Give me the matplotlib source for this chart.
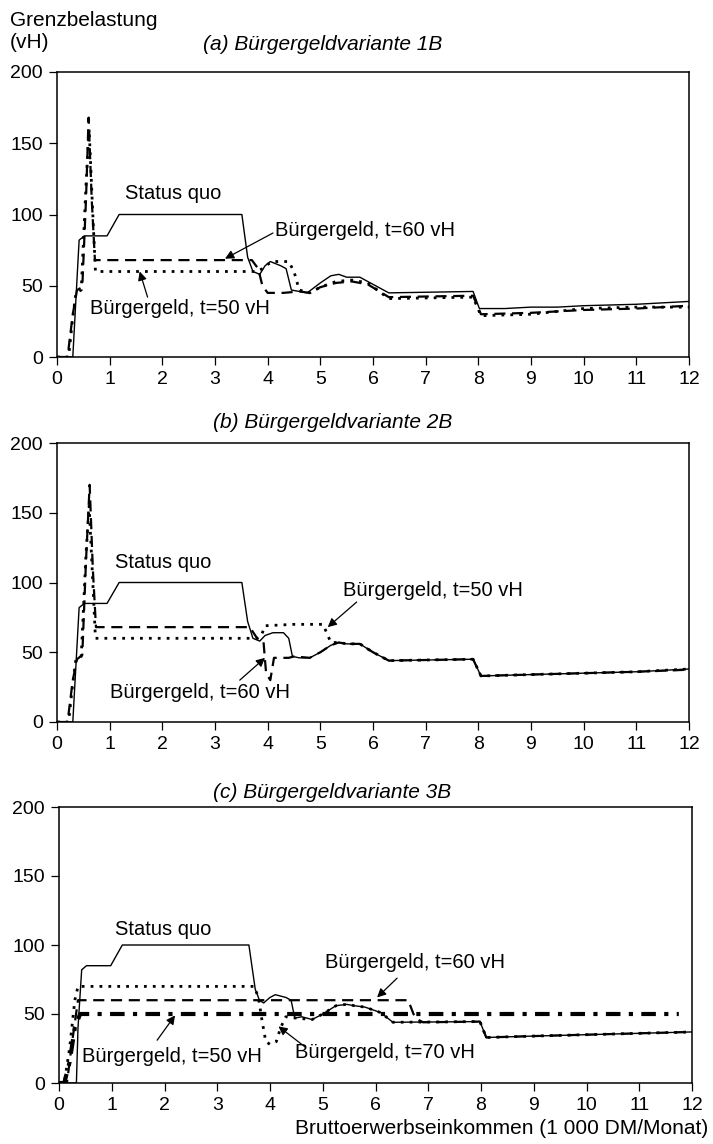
import numpy as np
import matplotlib
matplotlib.use("Agg")
import matplotlib.pyplot as plt

plt.rcParams['font.family'] = ['Liberation Sans', 'DejaVu Sans']
plt.rcParams['font.size'] = 14

# Panel (a) Bürgergeldvariante 1B
a_sq_x = [0, 0.30, 0.42, 0.52, 0.95, 1.18, 3.51, 3.62, 3.72, 3.85, 3.95, 4.05, 4.25, 4.35, 4.45,
          4.6, 4.75, 5.0, 5.2, 5.35, 5.5, 5.75, 6.0, 6.3, 7.9, 8.02, 8.5, 9.0, 9.5, 10.0, 10.5, 11.0, 12.0]
a_sq_y = [0, 0, 82, 85, 85, 100, 100, 70, 60, 58, 64, 67, 64, 62, 47,
          46, 45, 52, 57, 58, 56, 56, 51, 45, 46, 34, 34, 35, 35, 36, 36.5, 37, 39]
a_t60_x = [0, 0.2, 0.3, 0.38, 0.48, 0.55, 0.6, 0.66, 0.72, 3.7, 3.82, 3.9, 4.0, 4.3, 4.6, 4.8,
           5.0, 5.3, 5.6, 5.9, 6.3, 7.9, 8.05, 9.0, 10.0, 11.0, 12.0]
a_t60_y = [0, 0, 30, 47, 49, 110, 168, 110, 68, 68, 62, 50, 45, 45, 46, 45,
           49, 52, 53, 51, 42, 43, 30, 31, 33, 34, 36]
a_t50_x = [0, 0.22, 0.3, 0.36, 0.46, 0.55, 0.61, 0.68, 0.73, 3.8, 3.9, 4.0, 4.1, 4.4, 4.5, 4.6,
           4.8, 5.0, 5.3, 5.6, 5.9, 6.3, 7.9, 8.05, 9.0, 9.5, 10.0, 11.0, 12.0]
a_t50_y = [0, 0, 28, 45, 47, 120, 160, 100, 60, 60, 62, 65, 67, 67, 60, 47,
           45, 49, 53, 54, 52, 41, 42, 29, 30, 32, 34, 35, 35]

# Panel (b) Bürgergeldvariante 2B
b_sq_x = [0, 0.30, 0.42, 0.52, 0.95, 1.18, 3.51, 3.62, 3.72, 3.85, 3.95, 4.1, 4.3, 4.4, 4.47,
          4.6, 4.8, 5.0, 5.2, 5.35, 5.5, 5.75, 6.0, 6.3, 7.9, 8.05, 9.0, 10.0, 11.0, 12.0]
b_sq_y = [0, 0, 82, 85, 85, 100, 100, 72, 60, 58, 62, 64, 64, 60, 47,
          46, 46, 50, 55, 57, 56, 56, 50, 44, 45, 33, 34, 35, 36, 38]
b_t60_x = [0, 0.2, 0.3, 0.38, 0.48, 0.55, 0.62, 0.68, 0.74, 3.66, 3.8, 3.92, 3.97, 4.05, 4.12,
           4.4, 4.5, 4.8, 5.0, 5.2, 5.35, 5.5, 5.75, 6.0, 6.3, 7.9, 8.05, 9.0, 10.0, 11.0, 12.0]
b_t60_y = [0, 0, 30, 45, 48, 115, 170, 110, 68, 68, 60, 58, 35, 30, 46,
           46, 47, 46, 50, 55, 57, 56, 56, 50, 44, 45, 33, 34, 35, 36, 37.5]
b_t50_x = [0, 0.22, 0.3, 0.36, 0.46, 0.55, 0.61, 0.68, 0.73, 3.8, 3.88, 3.95, 4.5, 5.05, 5.12,
           5.2, 5.35, 5.5, 5.75, 6.0, 6.3, 7.9, 8.05, 9.0, 10.0, 11.0, 12.0]
b_t50_y = [0, 0, 28, 45, 47, 120, 155, 100, 60, 60, 62, 69, 70, 70, 64,
           57, 57, 56, 56, 50, 44, 45, 33, 34, 35, 36, 38]

# Panel (c) Bürgergeldvariante 3B
c_sq_x = [0, 0.33, 0.36, 0.43, 0.52, 0.98, 1.2, 3.6, 3.72, 3.8, 3.88, 4.0, 4.1, 4.3, 4.4, 4.47,
          4.6, 4.8, 5.0, 5.25, 5.45, 5.6, 5.8, 6.1, 6.33, 7.98, 8.1, 9.0, 10.0, 11.0, 12.0]
c_sq_y = [0, 0, 40, 82, 85, 85, 100, 100, 68, 60, 58, 62, 64, 62, 60, 47,
          48, 46, 50, 56, 57, 56, 55, 51, 44, 44.5, 33, 34, 35, 36, 37]
c_t70_x = [0, 0.1, 0.2, 0.3, 0.36, 3.7, 3.78, 3.85, 3.92, 4.0, 4.12, 4.2, 4.3, 4.5, 4.8,
           5.0, 5.25, 5.45, 5.6, 5.8, 6.1, 6.33, 7.98, 8.1, 9.0, 10.0, 11.0, 12.0]
c_t70_y = [0, 0, 25, 60, 70, 70, 62, 45, 30, 28, 30, 40, 48, 47, 46,
           50, 56, 57, 56, 55, 51, 44, 44.5, 33, 34, 35, 36, 37]
c_t60_x = [0, 0.15, 0.25, 0.36, 6.62, 6.72, 6.8, 6.9, 7.98, 8.1, 9.0, 10.0, 11.0, 12.0]
c_t60_y = [0, 0, 30, 60, 60, 50, 46, 44, 44.5, 33, 34, 35, 36, 37]
c_t50_x = [0, 0.1, 0.2, 0.3, 0.4, 11.75]
c_t50_y = [0, 0, 15, 40, 50, 50]

xticks = list(range(0, 13))
yticks = [0, 50, 100, 150, 200]

W, H = 713, 1144
fig = plt.figure(figsize=(W / 100, H / 100), dpi=100)


def px(x0, y0, x1, y1):
    return [x0 / W, 1 - y1 / H, (x1 - x0) / W, (y1 - y0) / H]


def setup(ax):
    ax.set_xlim(0, 12)
    ax.set_ylim(0, 200)
    ax.set_xticks(xticks)
    ax.set_yticks(yticks)
    ax.tick_params(direction='out', length=6, width=0.9, labelsize=14, pad=4)
    for s in ax.spines.values():
        s.set_linewidth(1.1)


def arr(ax, tip, tail):
    ax.annotate('', xy=tip, xytext=tail,
                arrowprops=dict(arrowstyle='-|>', color='black', lw=0.9,
                                mutation_scale=13, shrinkA=0, shrinkB=0))


DASH = (0, (5, 3))
DOT = (0, (1, 2.2))
LBL = 14.5

ax1 = fig.add_axes(px(57, 72, 689, 357))
setup(ax1)
ax1.plot(a_sq_x, a_sq_y, color='black', lw=1.0)
ax1.plot(a_t60_x, a_t60_y, color='black', lw=1.6, linestyle=DASH)
ax1.plot(a_t50_x, a_t50_y, color='black', lw=2.0, linestyle=DOT)
ax1.text(1.29, 115, 'Status quo', va='center', fontsize=LBL)
ax1.text(4.14, 89, 'Bürgergeld, t=60 vH', va='center', fontsize=LBL)
arr(ax1, (3.19, 69), (4.1, 87))
ax1.text(0.63, 34, 'Bürgergeld, t=50 vH', va='center', fontsize=LBL)
arr(ax1, (1.57, 60), (1.72, 42))

ax2 = fig.add_axes(px(57, 443, 689, 722))
setup(ax2)
ax2.plot(b_sq_x, b_sq_y, color='black', lw=1.0)
ax2.plot(b_t60_x, b_t60_y, color='black', lw=1.6, linestyle=DASH)
ax2.plot(b_t50_x, b_t50_y, color='black', lw=2.0, linestyle=DOT)
ax2.text(1.1, 114, 'Status quo', va='center', fontsize=LBL)
ax2.text(5.43, 94, 'Bürgergeld, t=50 vH', va='center', fontsize=LBL)
arr(ax2, (5.14, 68), (5.69, 86))
ax2.text(1.0, 21, 'Bürgergeld, t=60 vH', va='center', fontsize=LBL)
arr(ax2, (3.95, 46), (3.47, 30))

ax3 = fig.add_axes(px(59, 807, 692, 1083))
setup(ax3)
ax3.plot(c_sq_x, c_sq_y, color='black', lw=1.0)
ax3.plot(c_t60_x, c_t60_y, color='black', lw=1.6, linestyle=DASH)
ax3.plot(c_t70_x, c_t70_y, color='black', lw=2.0, linestyle=DOT)
ax3.plot(c_t50_x, c_t50_y, color='black', lw=3.0, linestyle=(0, (3.5, 2, 1, 2)))
ax3.text(1.06, 111, 'Status quo', va='center', fontsize=LBL)
ax3.text(0.44, 19, 'Bürgergeld, t=50 vH', va='center', fontsize=LBL)
arr(ax3, (2.2, 49), (1.86, 31))
ax3.text(4.48, 22, 'Bürgergeld, t=70 vH', va='center', fontsize=LBL)
arr(ax3, (4.16, 41), (4.67, 26))
ax3.text(5.05, 87, 'Bürgergeld, t=60 vH', va='center', fontsize=LBL)
arr(ax3, (6.03, 62), (6.41, 76))

# titles and axis labels
fig.text(203 / W, 1 - 44 / H, '(a) Bürgergeldvariante 1B', style='italic', va='center', fontsize=15)
fig.text(213 / W, 1 - 422 / H, '(b) Bürgergeldvariante 2B', style='italic', va='center', fontsize=15)
fig.text(213 / W, 1 - 792 / H, '(c) Bürgergeldvariante 3B', style='italic', va='center', fontsize=15)
fig.text(10 / W, 1 - 21 / H, 'Grenzbelastung', va='center', fontsize=15)
fig.text(10 / W, 1 - 43 / H, '(vH)', va='center', fontsize=15)
fig.text(708 / W, 1 - 1128 / H, 'Bruttoerwerbseinkommen (1 000 DM/Monat)', ha='right', va='center', fontsize=15)

fig.savefig('out.png', dpi=100, facecolor='white')
